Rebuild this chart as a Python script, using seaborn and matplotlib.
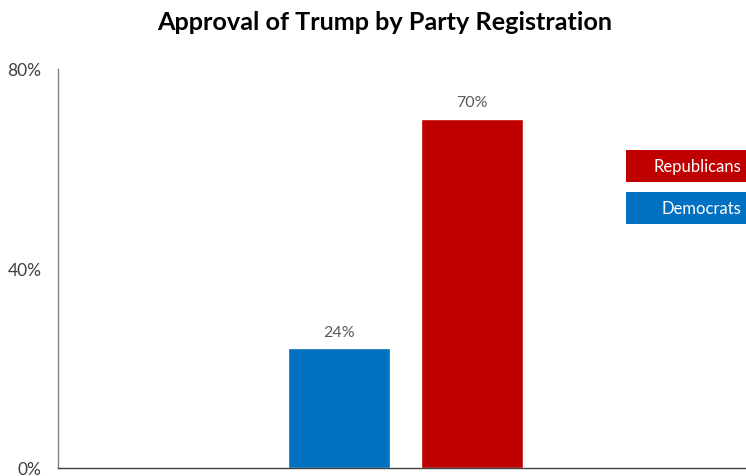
import matplotlib
matplotlib.use("Agg")
import matplotlib.pyplot as plt
import seaborn as sns
import pandas as pd
from matplotlib.patches import Rectangle

parties = ["Democrats", "Republicans"]
approval = [24, 70]
colors = ["#0070C0", "#C00000"]
yticks = [0, 40, 80]
ytick_labels = ["0%", "40%", "80%"]
title = "Approval of Trump by Party Registration"

sns.set_style("white")
plt.rcParams['font.family'] = ['Lato', 'DejaVu Sans']

df = pd.DataFrame({"party": parties, "approval": approval})

fig = plt.figure(figsize=(7.46, 4.77), dpi=100)
ax = fig.add_axes([58/746, 8/477, 1 - 58/746, (469-70)/477])
sns.barplot(data=df, x="party", y="approval", hue="party", palette=colors,
            width=0.767, ax=ax, legend=False, saturation=1)

ax.set_xlim(-2.113, 3.06)
ax.set_ylim(0, 80)
ax.set_yticks(yticks)
ax.set_yticklabels(ytick_labels, fontsize=12.5, color="#404040")
ax.tick_params(axis="y", length=0, pad=12)
ax.set_xticks([])
ax.set_xlabel("")
ax.set_ylabel("")
for s in ["top", "right"]:
    ax.spines[s].set_visible(False)
ax.spines["left"].set_color("#808080")
ax.spines["bottom"].set_color("#404040")
ax.spines["left"].set_linewidth(1)
ax.spines["bottom"].set_linewidth(1)

for i, v in enumerate(approval):
    ax.annotate(f"{v}%", (i, v), xytext=(0, 7), textcoords="offset points",
                ha="center", va="bottom", fontsize=11.5, color="#595959")

fig.text(385/746, 1 - 22/477, title, ha="center", va="center",
         fontsize=18.2, fontweight="bold", color="black")

# label boxes
for name, col, y0, y1 in [("Republicans", "#C00000", 151, 183), ("Democrats", "#0070C0", 193, 225)]:
    fig.patches.append(Rectangle((626/746, 1 - y1/477), 120/746, (y1-y0)/477,
                                 transform=fig.transFigure, facecolor=col, edgecolor="none"))
    fig.text(741/746, 1 - (y0+y1)/2/477, name, ha="right", va="center",
             fontsize=12, color="white")

fig.savefig("out.png", dpi=100)
